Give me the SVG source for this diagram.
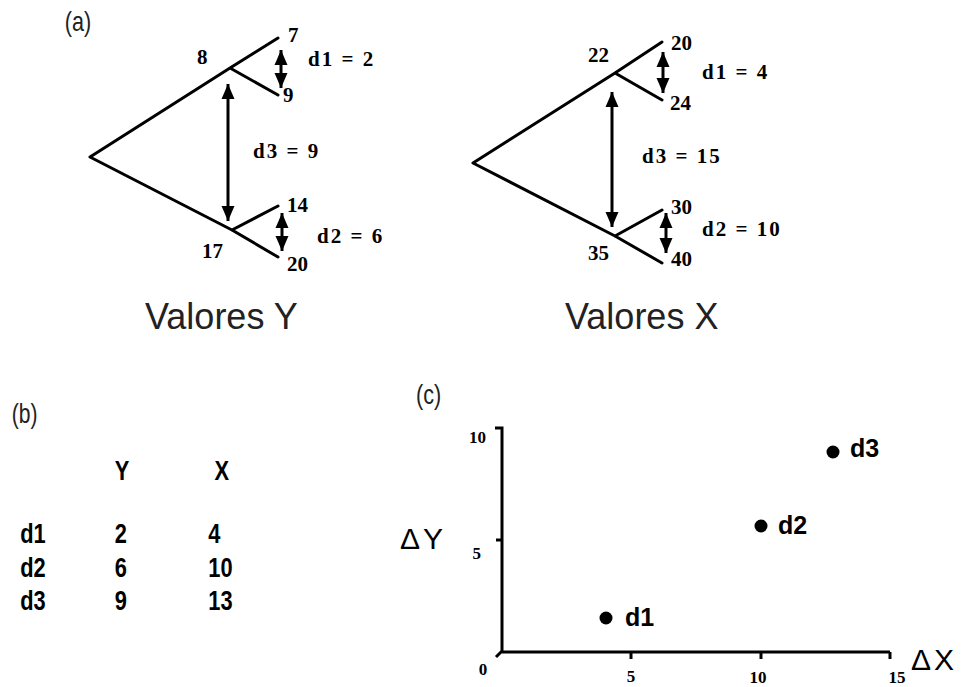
<svg xmlns="http://www.w3.org/2000/svg" width="961" height="687" viewBox="0 0 961 687">
<style>
.tree{fill:none;stroke:#000;stroke-width:3;stroke-linecap:round;stroke-linejoin:round}
.arr{fill:none;stroke:#000;stroke-width:3;marker-start:url(#ah);marker-end:url(#ah)}
.axis{fill:none;stroke:#000;stroke-width:3}
.num{font-family:"Liberation Serif","Times New Roman",serif;font-weight:bold;font-size:21px;fill:#000}
.lbl{font-family:"Liberation Serif","Times New Roman",serif;font-weight:bold;font-size:21px;letter-spacing:2px;fill:#000}
.cap{font-family:"Liberation Sans",Arial,sans-serif;font-size:36px;fill:#222}
.tab{font-family:"Liberation Sans",Arial,sans-serif;font-weight:bold;font-size:28px;fill:#000}
.pan{font-family:"Liberation Sans",Arial,sans-serif;font-size:27px;fill:#222}
.tick{font-family:"Liberation Serif","Times New Roman",serif;font-weight:bold;font-size:17px;fill:#000}
.pt{font-family:"Liberation Sans",Arial,sans-serif;font-weight:bold;font-size:25px;fill:#000}
.dl{font-family:"Liberation Sans",Arial,sans-serif;font-size:30px;letter-spacing:3px;fill:#000}
</style>
<defs>
<marker id="ah" markerUnits="userSpaceOnUse" markerWidth="16" markerHeight="16" viewBox="0 0 16 16" refX="15" refY="8" orient="auto-start-reverse">
<path d="M0,1.5 L15,8 L0,14.5 Z" fill="#000"/>
</marker>
</defs>

<g transform="scale(0.8,1)"><text class="pan" x="81" y="31">(a)</text></g>

<g id="treeY">
<path class="tree" d="M90,157 L230,68 L278,38 M230,68 L278,95 M90,157 L232,230 L278,257 M232,230 L278,206"/>
<text class="num" x="197" y="64">8</text>
<text class="num" x="288" y="42">7</text>
<text class="num" x="283" y="102">9</text>
<text class="num" x="287" y="212">14</text>
<text class="num" x="202" y="258">17</text>
<text class="num" x="287" y="271">20</text>
<text class="lbl" x="308" y="66">d1 = 2</text>
<text class="lbl" x="253" y="158">d3 = 9</text>
<text class="lbl" x="317" y="243">d2 = 6</text>
<text class="cap" x="145" y="329">Valores Y</text>
</g>

<g id="treeX">
<path class="tree" d="M473,163 L615,73 L662,42 M615,73 L662,100 M473,163 L615,236 L662,263 M615,236 L662,210"/>
<text class="num" x="588" y="62">22</text>
<text class="num" x="671" y="50">20</text>
<text class="num" x="670" y="110">24</text>
<text class="num" x="671" y="214">30</text>
<text class="num" x="588" y="260">35</text>
<text class="num" x="671" y="266">40</text>
<text class="lbl" x="702" y="79">d1 = 4</text>
<text class="lbl" x="642" y="163">d3 = 15</text>
<text class="lbl" x="702" y="236">d2 = 10</text>
<text class="cap" x="565" y="329">Valores X</text>
</g>

<g id="connectors">
<line class="arr" x1="281" y1="50" x2="281" y2="88"/>
<line class="arr" x1="228" y1="84" x2="228" y2="221"/>
<line class="arr" x1="282" y1="213" x2="282" y2="251"/>
<line class="arr" x1="663" y1="52" x2="663" y2="93"/>
<line class="arr" x1="612" y1="92" x2="612" y2="227"/>
<line class="arr" x1="666" y1="213" x2="666" y2="253"/>
</g>

<g id="table" transform="scale(0.78,1)">
<text class="pan" x="15" y="423">(b)</text>
<text class="tab" x="147" y="480">Y</text>
<text class="tab" x="275" y="480">X</text>
<text class="tab" x="26" y="543">d1</text>
<text class="tab" x="147" y="543">2</text>
<text class="tab" x="267" y="543">4</text>
<text class="tab" x="26" y="577">d2</text>
<text class="tab" x="147" y="577">6</text>
<text class="tab" x="267" y="577">10</text>
<text class="tab" x="26" y="610">d3</text>
<text class="tab" x="147" y="610">9</text>
<text class="tab" x="267" y="610">13</text>
</g>

<g id="chart">
<g transform="scale(0.8,1)"><text class="pan" x="520" y="404">(c)</text></g>
<path class="axis" d="M495,428 L502,428 L502,652 L890,652 M496,540 L502,540 M502,651 L496,657 M631,652 L631,659 M761,652 L761,659 M890,652 L890,659"/>
<text class="tick" x="486" y="443" text-anchor="end">10</text>
<text class="tick" x="481" y="559" text-anchor="end">5</text>
<text class="tick" x="483" y="675" text-anchor="middle">0</text>
<text class="tick" x="631" y="682" text-anchor="middle">5</text>
<text class="tick" x="758" y="683" text-anchor="middle">10</text>
<text class="tick" x="897" y="683" text-anchor="middle">15</text>
<text class="dl" x="400" y="549">ΔY</text>
<text class="dl" x="911" y="670">ΔX</text>
</g>
<g id="d1"><circle cx="606" cy="618" r="6.5"/><text class="pt" x="625" y="626">d1</text></g>
<g id="d2"><circle cx="761" cy="526" r="6.5"/><text class="pt" x="778" y="534">d2</text></g>
<g id="d3"><circle cx="833" cy="452" r="6.5"/><text class="pt" x="850" y="457">d3</text></g>
</svg>
